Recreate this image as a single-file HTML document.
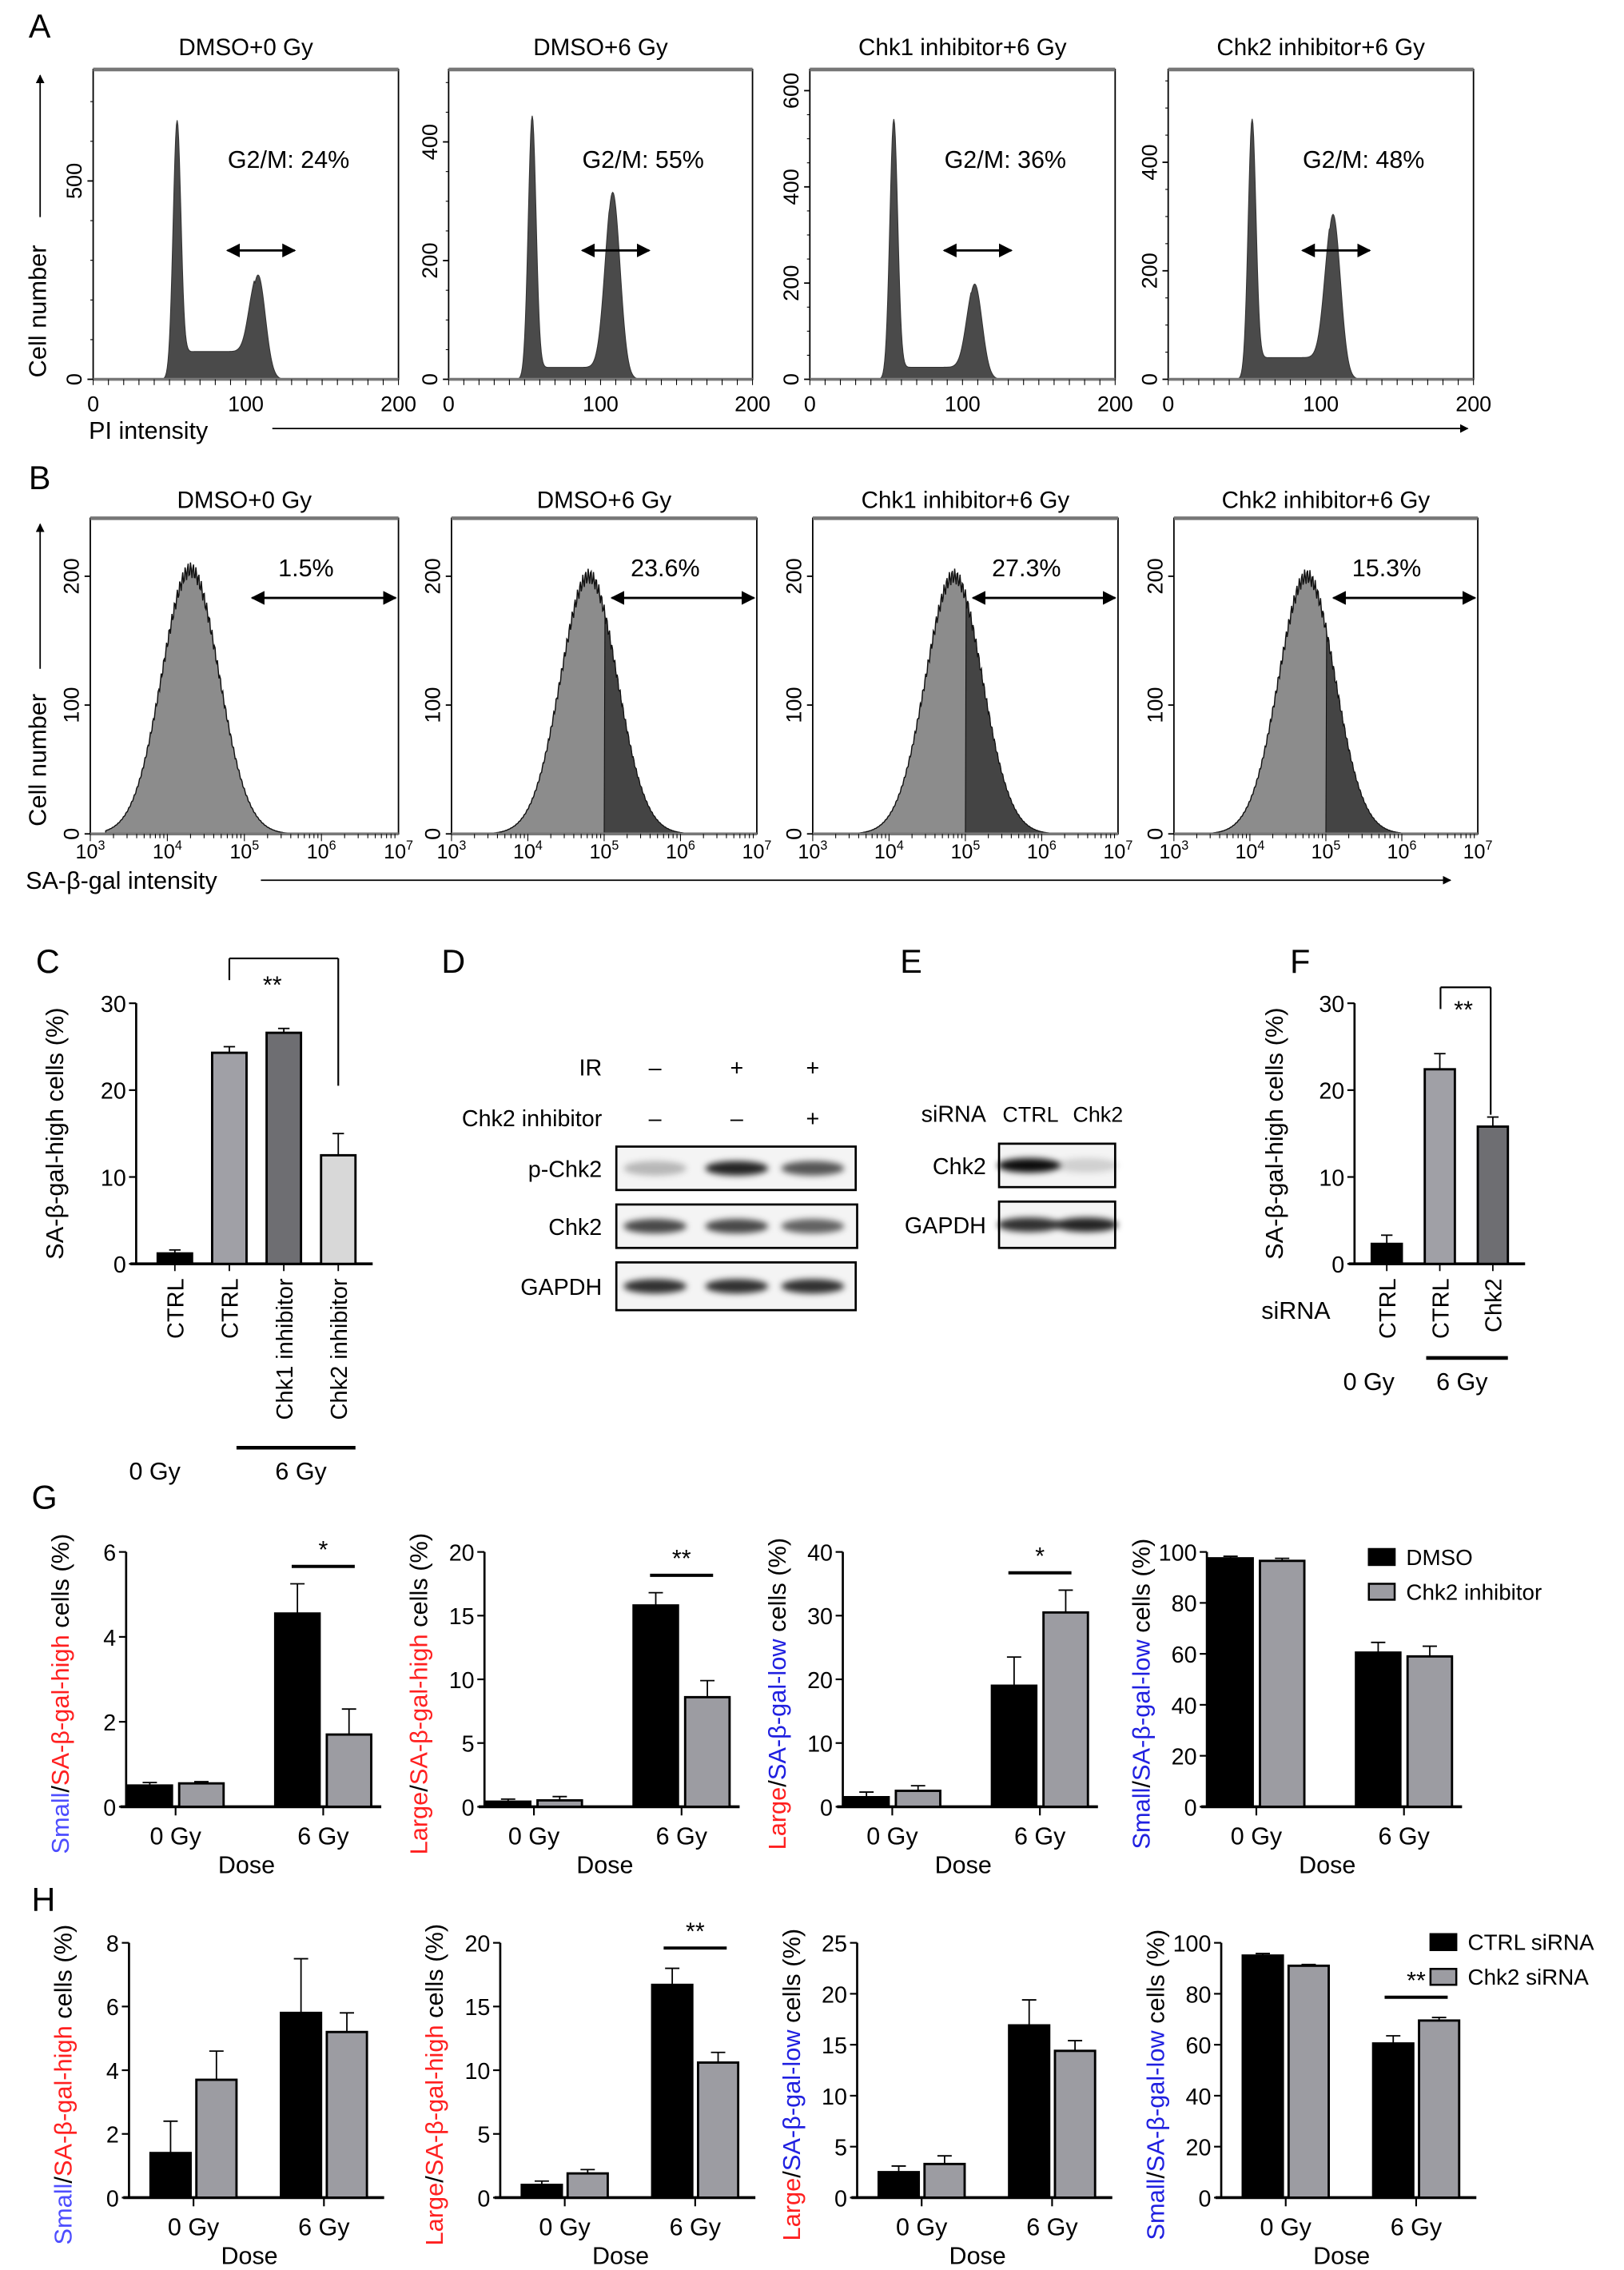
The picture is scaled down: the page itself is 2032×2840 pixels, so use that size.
<!DOCTYPE html>
<html><head><meta charset="utf-8"><style>
html,body{margin:0;padding:0;background:#fff;}
svg{display:block;font-family:"Liberation Sans",sans-serif;}
</style></head><body>
<svg id="fig" width="2032" height="2840" viewBox="0 0 1133 1568" preserveAspectRatio="none" xmlns="http://www.w3.org/2000/svg">
<defs>
<marker id="ah" viewBox="0 0 10 10" refX="9" refY="5" markerWidth="6" markerHeight="6" orient="auto-start-reverse"><path d="M0,0 L10,5 L0,10 z" fill="#000"/></marker>
<filter id="blur" x="-20%" y="-50%" width="140%" height="200%"><feGaussianBlur stdDeviation="2.2"/></filter>
</defs>
</svg>
<script>
// ===== Panel A data =====
const aTitles = ["DMSO+0 Gy","DMSO+6 Gy","Chk1 inhibitor+6 Gy","Chk2 inhibitor+6 Gy"];
const aYMax = [781, 522, 644, 571];
const aYTicks = [[0,500],[0,200,400],[0,200,400,600],[0,200,400]];
const aG1Peak = [653, 444, 541, 480];
const aG2Peak = [263, 315, 198, 304];
const aSPhase = [70, 20, 25, 40];
const aG2M = ["G2/M: 24%","G2/M: 55%","G2/M: 36%","G2/M: 48%"];
const aXTicks = [0,100,200];
// ===== Panel B data =====
const bTitles = aTitles;
const bPeakLog = [4.3, 4.8, 4.85, 4.75];
const bPeak = [205, 200, 200, 200];
const bPct = ["1.5%","23.6%","27.3%","15.3%"];
const bYTicks = [0,100,200];
const bXExp = [3,4,5,6,7];
// ===== Panel C data =====
const cCats = ["CTRL","CTRL","Chk1 inhibitor","Chk2 inhibitor"];
const cVals = [1.2, 24.3, 26.6, 12.5];
const cErr = [0.4, 0.7, 0.5, 2.5];
const cTicks = [0,10,20,30];
// ===== Panel F data =====
const fCats = ["CTRL","CTRL","Chk2"];
const fVals = [2.3, 22.4, 15.8];
const fErr = [1.0, 1.8, 1.1];
const fTicks = [0,10,20,30];
// ===== Panel G data =====
const doseCats = ["0 Gy","6 Gy"];
const gMax = [6,20,40,100];
const gStep = [2,5,10,20];
const gSeries1 = [[0.5,4.55],[0.4,15.8],[1.5,19],[97.5,60.5]];
const gSeries2 = [[0.55,1.7],[0.5,8.6],[2.5,30.5],[96.5,59]];
const gErr1 = [[0.07,0.7],[0.2,1.0],[0.8,4.5],[0.8,4]];
const gErr2 = [[0.04,0.6],[0.3,1.3],[0.8,3.5],[1,4]];
const gSig = ["*","**","*",""];
// ===== Panel H data =====
const hMax = [8,20,25,100];
const hStep = [2,5,5,20];
const hSeries1 = [[1.4,5.8],[1.0,16.7],[2.5,16.9],[95,60.5]];
const hSeries2 = [[3.7,5.2],[1.9,10.6],[3.3,14.4],[91,69.5]];
const hErr1 = [[1.0,1.7],[0.3,1.3],[0.6,2.5],[0.8,3]];
const hErr2 = [[0.9,0.6],[0.3,0.8],[0.8,1.0],[0.5,1.2]];
const hSig = ["","**","","**"];

const NS="http://www.w3.org/2000/svg";
const svg=document.getElementById('fig');
function el(tag,attrs,parent,text){const e=document.createElementNS(NS,tag);for(const k in attrs)e.setAttribute(k,attrs[k]);if(text!==undefined)e.textContent=text;(parent||svg).appendChild(e);return e;}
function grp(name,parent){const g=el('g',{},parent);


return g;}
function txt(parent,x,y,s,name,opts){opts=opts||{};const t=el('text',{x:x,y:y,'font-size':opts.size||16,'text-anchor':opts.anchor||'middle',fill:opts.fill||'#000'},parent,s);
if(opts.rot!==undefined)t.setAttribute('transform','rotate('+opts.rot+' '+x+' '+y+')');
if(opts.base)t.setAttribute('dominant-baseline',opts.base);


return t;}
function line(parent,x1,y1,x2,y2,w,name,extra){const l=el('line',Object.assign({x1:x1,y1:y1,x2:x2,y2:y2,stroke:'#000','stroke-width':w||1},extra||{}),parent);
if(name){
}
return l;}

// panel letters
const letters=[["A",20,26],["B",20,338],["C",25,672],["D",308,672],["E",628,672],["F",900,672],["G",22,1042],["H",22,1320]];
letters.forEach(l=>{txt(svg,l[1],l[2],l[0],'panel-letter-'+l[0].toLowerCase(),{size:23,anchor:'start'});});

// ===== Panel A =====
const aBoxes=[[65,278],[313,525],[565,778],[815,1028]];
const aTop=48,aBot=262;
const pa=grp('panel-a');
aBoxes.forEach((b,i)=>{
  const g=grp('cell-cycle-histogram-'+(i+1),pa);
  const x0=b[0],x1=b[1],w=x1-x0,h=aBot-aTop;
  const xs=v=>x0+v/200*w, ys=v=>aBot-v/aYMax[i]*h;
  let d='M'+xs(45)+','+aBot;
  for(let v=45;v<=125;v+=0.5){
    let c=aG1Peak[i]*Math.exp(-Math.pow((v-55)/2.6,2)/2)+aG2Peak[i]*Math.exp(-Math.pow((v-108)/4.8,2)/2);
    if(v>57&&v<106)c+=aSPhase[i]*(1/(1+Math.exp(-(v-60)))) *(1/(1+Math.exp((v-104)/1.5)));
    d+=' L'+xs(v).toFixed(2)+','+ys(c).toFixed(2);
  }
  d+=' L'+xs(125)+','+aBot+' Z';
  const p=el('path',{d:d,fill:'#4a4a4a',stroke:'#333','stroke-width':0.6},g);
  
  
  const r=el('rect',{x:x0,y:aTop,width:w,height:h,fill:'none',stroke:'#000','stroke-width':1},g);
  
  
  line(g,x0,aTop,x1,aTop,2.5,null,{stroke:'#777'});
  line(g,x0,aBot,x1,aBot,2,null,{stroke:'#777'});
  txt(g,(x0+x1)/2,38,aTitles[i],'panel-title',{size:16.5});
  aYTicks[i].forEach(t=>{line(g,x0-4,ys(t),x0,ys(t),1);txt(g,x0-8,ys(t),String(t),'y-tick-label',{size:15,rot:-90});});
  for(let t=0;t<aYMax[i];t+=aYMax[i]>700?100:50){line(g,x0-2,ys(t),x0,ys(t),0.6);}
  aXTicks.forEach(t=>{txt(g,xs(t),284,String(t),'x-tick-label',{size:15});});
  for(let t=0;t<=200;t+=10){line(g,xs(t),aBot,xs(t),aBot+4,0.6);}
  line(g,xs(88),173,xs(132),173,1.6,'g2m-gate-arrow',{'marker-start':'url(#ah)','marker-end':'url(#ah)'});
  txt(g,xs(128),116,aG2M[i],'g2m-percentage',{size:17});
});
line(pa,28,150,28,52,1,'y-axis-arrow',{'marker-end':'url(#ah)'});
txt(pa,32,215,'Cell number','y-axis-title',{size:17,rot:-90});
txt(pa,62,303,'PI intensity','x-axis-title',{size:17,anchor:'start'});
line(pa,190,296,1024,296,1,'x-axis-arrow',{'marker-end':'url(#ah)'});

// ===== Panel B =====
const bBoxes=[[63,278],[315,528],[567,780],[819,1031]];
const bTop=358,bBot=576,bYMax=245;
const pb=grp('panel-b');
bBoxes.forEach((b,i)=>{
  const g=grp('sa-beta-gal-histogram-'+(i+1),pb);
  const x0=b[0],x1=b[1],w=x1-x0,h=bBot-bTop;
  const xs=v=>x0+(v-3)/4*w, ys=v=>bBot-v/bYMax*h;
  const pts=[];
  for(let v=3.2;v<=6.2;v+=0.01){
    const c=bPeak[i]*Math.exp(-Math.pow((v-bPeakLog[i])/0.37,2)/2)*(1+0.03*Math.sin(v*180));
    pts.push([v,c]);
  }
  let d='M'+xs(3.2)+','+bBot;pts.forEach(p=>d+=' L'+xs(p[0]).toFixed(2)+','+ys(Math.max(0,p[1])).toFixed(2));d+=' L'+xs(6.2)+','+bBot+' Z';
  const p=el('path',{d:d,fill:'#8c8c8c',stroke:'#111','stroke-width':0.8},g);
  
  
  if(i>0){let d2='M'+xs(5)+','+bBot;pts.filter(q=>q[0]>=5).forEach(q=>d2+=' L'+xs(q[0]).toFixed(2)+','+ys(Math.max(0,q[1])).toFixed(2));d2+=' L'+xs(6.2)+','+bBot+' Z';
    const p2=el('path',{d:d2,fill:'#444',stroke:'#111','stroke-width':0.6},g);
    
    }
  const r=el('rect',{x:x0,y:bTop,width:w,height:h,fill:'none',stroke:'#000','stroke-width':1},g);
  
  
  line(g,x0,bTop,x1,bTop,2.5,null,{stroke:'#777'});
  line(g,x0,bBot,x1,bBot,2,null,{stroke:'#777'});
  txt(g,(x0+x1)/2,351,bTitles[i],'panel-title',{size:16.5});
  bYTicks.forEach(t=>{line(g,x0-4,ys(t),x0,ys(t),1);txt(g,x0-8,ys(t),String(t),'y-tick-label',{size:15,rot:-90});});
  bXExp.forEach(e=>{const t=txt(g,xs(e),593,'10','x-tick-label',{size:14});el('tspan',{'font-size':9,dy:-6},t,String(e));});
  for(let e=3;e<7;e++)for(let k=1;k<10;k++){line(g,xs(e+Math.log10(k)),bBot,xs(e+Math.log10(k)),bBot+(k==1?5:3),0.6);}
  line(g,xs(5.1),413,x1-2,413,1.6,'high-gate-arrow',{'marker-start':'url(#ah)','marker-end':'url(#ah)'});
  txt(g,xs(5.8),398,bPct[i],'high-percentage',{size:17});
});
line(pb,28,462,28,362,1,'y-axis-arrow',{'marker-end':'url(#ah)'});
txt(pb,32,525,'Cell number','y-axis-title',{size:17,rot:-90});
txt(pb,18,614,'SA-β-gal intensity','x-axis-title',{size:17,anchor:'start'});
line(pb,182,608,1012,608,1,'x-axis-arrow',{'marker-end':'url(#ah)'});

// ===== generic simple bar chart (C, F) =====
function simpleBars(name,ax,base,top,maxV,ticks,vals,errs,cats,colors,barW,slot,firstOff){
  const g=grp(name);
  const ys=v=>base-v/maxV*(base-top);
  const xend=ax+firstOff+slot*vals.length-slot+barW+12;
  line(g,ax,base,ax,top,1.5,'y-axis');
  line(g,ax-4,base,xend,base,2,'x-axis');
  ticks.forEach(t=>{line(g,ax-5,ys(t),ax,ys(t),1.2);txt(g,ax-7,ys(t)+6,String(t),'y-tick-label',{size:16,anchor:'end'});});
  vals.forEach((v,i)=>{
    const x=ax+firstOff+i*slot;
    line(g,x+barW/2,ys(v),x+barW/2,ys(v+errs[i]),1);
    line(g,x+barW/2-4,ys(v+errs[i]),x+barW/2+4,ys(v+errs[i]),1);
    const r=el('rect',{x:x,y:ys(v),width:barW,height:base-ys(v),fill:colors[i],stroke:'#000','stroke-width':1.6},g);
    
    
    line(g,x+barW/2,base,x+barW/2,base+5,1);
    txt(g,x+barW/2+6,base+10,cats[i],'x-category-label',{size:16,anchor:'end',rot:-90});
  });
  return {g:g,ys:ys};
}
const C=simpleBars('panel-c-bar-chart',95,873,693,30,cTicks,cVals,cErr,cCats,['#000','#a0a0a6','#6e6e72','#d8d8d8'],24,38,15);
txt(C.g,44,783,'SA-β-gal-high cells (%)','y-axis-title',{size:17,rot:-90});
line(C.g,148+12,662,148+12,677,1.2);line(C.g,148+12,662,230+6,662,1.2);line(C.g,230+6,662,230+6,750,1.2);
txt(C.g,190,686,'**','significance',{size:17});
txt(C.g,108,1022,'0 Gy','dose-label-0gy',{size:17});
line(C.g,165,1000,248,1000,2.5,'dose-bracket');
txt(C.g,210,1022,'6 Gy','dose-label-6gy',{size:17});

const F=simpleBars('panel-f-bar-chart',945,873,693,30,fTicks,fVals,fErr,fCats,['#000','#a0a0a6','#6e6e72'],21,37,12);
txt(F.g,895,783,'SA-β-gal-high cells (%)','y-axis-title',{size:17,rot:-90});
line(F.g,1005,682,1005,697,1.2);line(F.g,1005,682,1040,682,1.2);line(F.g,1040,682,1040,770,1.2);
txt(F.g,1021,703,'**','significance',{size:17});
txt(F.g,880,911,'siRNA','sirna-label',{size:17,anchor:'start'});
txt(F.g,955,960,'0 Gy','dose-label-0gy',{size:17});
line(F.g,995,938,1052,938,2.5,'dose-bracket');
txt(F.g,1020,960,'6 Gy','dose-label-6gy',{size:17});

// ===== Panel D blots =====
const pd=grp('panel-d-western-blot');
txt(pd,420,743,'IR','ir-label',{size:16,anchor:'end'});
txt(pd,420,778,'Chk2 inhibitor','inhibitor-label',{size:16,anchor:'end'});
const dLanes=[457,514,567];
const irSigns=['–','+','+'],inhSigns=['–','–','+'];
dLanes.forEach((x,i)=>{txt(pd,x,743,irSigns[i],'ir-sign',{size:16});txt(pd,x,778,inhSigns[i],'inhibitor-sign',{size:16});});
function blot(parent,name,label,x0,x1,y0,y1,lanes,intens,labelX){
  const g=grp(name,parent);
  el('rect',{x:x0,y:y0,width:x1-x0,height:y1-y0,fill:'#f4f4f4',stroke:'#000','stroke-width':1.5},g);
  lanes.forEach((x,i)=>{const e=el('ellipse',{cx:x,cy:(y0+y1)/2,rx:22,ry:5,fill:'#000','fill-opacity':intens[i],filter:'url(#blur)'},g);
    
    });
  txt(g,labelX,(y0+y1)/2+6,label,'blot-label',{size:16,anchor:'end'});
}
blot(pd,'blot-p-chk2','p-Chk2',430,597,792,822,dLanes,[0.25,0.85,0.65],420);
blot(pd,'blot-chk2','Chk2',430,598,832,862,dLanes,[0.7,0.7,0.6],420);
blot(pd,'blot-gapdh','GAPDH',430,597,872,905,dLanes,[0.8,0.8,0.8],420);
// ===== Panel E blots =====
const pe=grp('panel-e-western-blot');
txt(pe,688,775,'siRNA','sirna-label',{size:16,anchor:'end'});
txt(pe,719,775,'CTRL','lane-ctrl',{size:15});
txt(pe,766,775,'Chk2','lane-chk2',{size:15});
blot(pe,'blot-chk2','Chk2',697,778,790,820,[718,758],[0.95,0.15],688);
blot(pe,'blot-gapdh','GAPDH',697,778,830,862,[718,758],[0.8,0.85],688);

// ===== grouped bar charts (G, H) =====
function grouped(name,ax,base,top,maxV,step,s1,s2,e1,e2,sig,barW,offs,axLen,titleParts){
  const g=grp(name);
  const ys=v=>base-v/maxV*(base-top);
  line(g,ax,base,ax,top,1.5,'y-axis');
  line(g,ax-4,base,ax+axLen,base,2,'x-axis');
  for(let t=0;t<=maxV+1e-9;t+=step){line(g,ax-5,ys(t),ax,ys(t),1.2);txt(g,ax-7,ys(t)+6,String(t),'y-tick-label',{size:16,anchor:'end'});}
  doseCats.forEach((c,j)=>{
    [[s1,e1,'#000','dmso'],[s2,e2,'#9c9ca2','treated']].forEach((S,k)=>{
      const v=S[0][j],er=S[1][j];const x=ax+offs[j*2+k];
      line(g,x+barW/2,ys(v),x+barW/2,ys(v+er),1);
      line(g,x+barW/2-5,ys(v+er),x+barW/2+5,ys(v+er),1);
      const r=el('rect',{x:x,y:ys(v),width:barW,height:base-ys(v),fill:S[2],stroke:'#000','stroke-width':1.6},g);
      
      
    });
    const cx=ax+(offs[j*2]+offs[j*2+1]+barW)/2;
    line(g,cx,base,cx,base+6,1.2);
    txt(g,cx,base+26,c,'x-category-label',{size:17});
    if(j==1&&sig[0]){
      const top2=Math.max(s1[1]+e1[1],s2[1]+e2[1]);
      const yb=ys(top2)-(sig[1]||14);
      line(g,cx-22,yb,cx+22,yb,2.2,'significance-bar');
      txt(g,cx,yb-6,sig[0],'significance',{size:17});
    }
  });
  txt(g,ax+axLen/2-5,base+46,'Dose','x-axis-title',{size:17});
  const t=el('text',{x:ax-40,y:(base+top)/2+10,'font-size':17,'text-anchor':'middle',transform:'rotate(-90 '+(ax-40)+' '+((base+top)/2+10)+')'},g);
  
  
  titleParts.forEach(p=>el('tspan',{fill:p[1]},t,p[0]));
  return g;
}
const BL='#4d4dff',RD='#ff2020',BK='#000',BL2='#2020e0';
const gTitles=[[['Small',BL],['/',BK],['SA-β-gal-high',RD],[' cells (%)',BK]],
 [['Large',RD],['/',BK],['SA-β-gal-high',RD],[' cells (%)',BK]],
 [['Large',RD],['/',BK],['SA-β-gal-low',BL2],[' cells (%)',BK]],
 [['Small',BL2],['/',BK],['SA-β-gal-low',BL2],[' cells (%)',BK]]];
const gAx=[88,338,588,842];
gAx.forEach((ax,i)=>{grouped('panel-g-chart-'+(i+1),ax,1248,1072,gMax[i],gStep[i],gSeries1[i],gSeries2[i],gErr1[i],gErr2[i],[gSig[i],12],31,[1,37,104,140],178,gTitles[i]);});
const hAx=[90,349,598,852];
hAx.forEach((ax,i)=>{grouped('panel-h-chart-'+(i+1),ax,1518,1342,hMax[i],hStep[i],hSeries1[i],hSeries2[i],hErr1[i],hErr2[i],[hSig[i],14],28,[15,47,106,138],178,gTitles[i]);});
// legends
function legend(name,x,y,labels){const g=grp(name);
  labels.forEach((l,i)=>{const r=el('rect',{x:x,y:y+i*24-10,width:18,height:11,fill:i?'#9c9ca2':'#000',stroke:'#000','stroke-width':1.4},g);
    
    
    txt(g,x+26,y+i*24+1,l,'legend-entry',{size:15.5,anchor:'start'});});}
legend('legend-g',955,1080,['DMSO','Chk2 inhibitor']);
legend('legend-h',998,1346,['CTRL siRNA','Chk2 siRNA']);
</script>
</body></html>
